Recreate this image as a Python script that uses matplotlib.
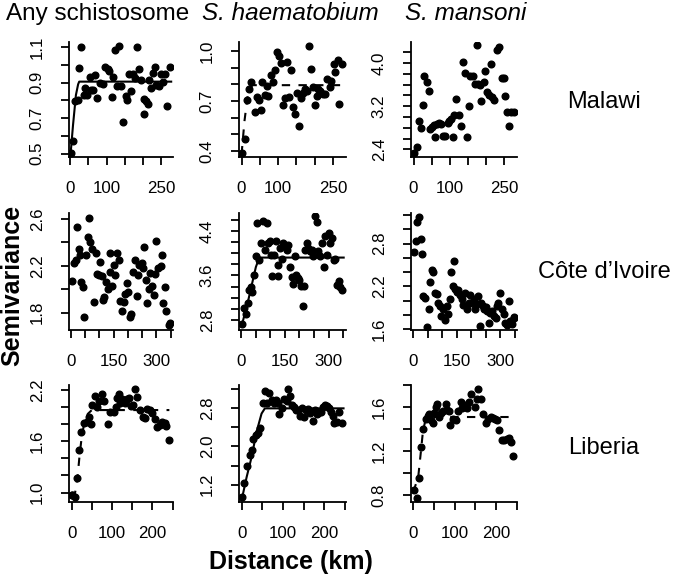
import numpy as np
import matplotlib
matplotlib.use('Agg')
import matplotlib.pyplot as plt

plt.rcParams['font.family'] = ['Liberation Sans', 'DejaVu Sans']

col_titles = ['Any schistosome', 'S. haematobium', 'S. mansoni']
row_titles = ['Malawi', 'C\u00f4te d\u2019Ivoire', 'Liberia']

# Malawi
mw_any_d = [3, 7, 14, 21, 25, 29, 37, 41, 47, 55, 56, 64, 68, 75, 82, 91, 97, 103, 106, 114, 118, 123, 129,
            134, 139, 145, 153, 157, 161, 168, 173, 177, 184, 189, 195, 202, 203, 209, 214, 216, 223, 227, 232,
            236, 245, 250, 255, 261, 266, 273]
mw_any_v = [0.504, 0.571, 0.796, 0.804, 0.982, 1.098, 0.83, 0.871, 0.83, 0.93, 0.86, 0.86, 0.94, 0.815, 0.895,
            0.89, 0.99, 0.975, 0.965, 0.82, 0.93, 1.085, 0.88, 1.104, 0.881, 0.68, 0.825, 0.80, 0.946, 0.85, 0.95,
            0.925, 1.10, 0.975, 0.913, 0.725, 0.808, 0.796, 0.778, 0.913, 0.871, 0.956, 0.988, 0.885, 0.881, 0.95,
            0.905, 0.95, 0.767, 0.99]
mw_any_md = [1, 8, 16, 22, 25, 277]
mw_any_mv = [0.49, 0.66, 0.83, 0.89, 0.905, 0.905]

mw_hae_d = [2, 9, 14, 20, 26, 37, 43, 49, 53, 57, 64, 69, 73, 81, 85, 92, 98, 103, 108, 113, 119, 125, 131,
            136, 142, 147, 151, 157, 162, 168, 174, 179, 186, 190, 195, 201, 206, 208, 215, 222, 229, 235, 241,
            245, 252, 256, 263, 268, 276]
mw_hae_v = [0.388, 0.474, 0.704, 0.77, 0.814, 0.634, 0.724, 0.704, 0.646, 0.814, 0.736, 0.79, 0.73, 0.856,
            0.814, 0.884, 0.996, 0.97, 0.93, 0.676, 0.72, 0.934, 0.724, 0.884, 0.664, 0.62, 0.75, 0.55, 0.72,
            0.75, 0.77, 0.76, 1.03, 0.89, 0.784, 0.676, 0.73, 0.77, 0.76, 0.744, 0.744, 0.83, 0.784, 0.82, 0.924,
            0.874, 0.946, 0.684, 0.924]
mw_hae_md = [0, 8, 16, 24, 30, 280]
mw_hae_mv = [0.38, 0.58, 0.72, 0.78, 0.795, 0.795]

mw_man_d = [2, 9, 14, 20, 25, 30, 37, 42, 46, 51, 57, 60, 64, 71, 76, 81, 87, 94, 99, 103, 109, 112, 118,
            126, 132, 136, 142, 147, 152, 156, 163, 168, 175, 177, 182, 186, 193, 198, 202, 209, 214, 216, 223,
            230, 236, 244, 250, 252, 257, 264, 268, 276]
mw_man_v = [2.33, 2.44, 2.92, 2.80, 3.22, 3.76, 3.65, 3.48, 2.78, 2.81, 2.85, 2.62, 2.87, 2.89, 2.87, 2.65,
            2.65, 2.89, 2.93, 2.96, 2.62, 3.03, 3.33, 3.04, 2.84, 4.02, 3.82, 2.62, 3.20, 3.76, 3.76, 3.62, 4.33,
            3.61, 3.59, 3.30, 3.65, 3.86, 3.46, 3.40, 3.98, 3.37, 3.31, 4.25, 4.30, 3.73, 3.73, 3.39, 3.09, 2.84,
            3.09, 3.09]

# Cote d'Ivoire
ci_any_d = [3, 12, 17, 21, 29, 32, 37, 43, 48, 52, 60, 65, 69, 76, 81, 87, 92, 98, 104, 110, 112, 118, 125,
            129, 136, 139, 144, 150, 156, 162, 170, 171, 179, 185, 191, 196, 202, 208, 211, 219, 225, 231, 234,
            240, 248, 254, 257, 262, 268, 274, 279, 286, 291, 294, 300, 306, 315, 320, 323, 329, 335, 343, 349]
ci_any_v = [2.07, 2.22, 2.25, 2.53, 2.34, 2.29, 2.06, 2.02, 1.76, 2.29, 2.45, 2.61, 2.40, 2.34, 1.89, 2.31,
            2.13, 2.12, 2.23, 2.11, 1.91, 1.93, 2.06, 2.00, 2.15, 2.31, 2.03, 2.21, 2.12, 2.31, 2.25, 1.90, 1.81,
            1.89, 1.96, 2.05, 1.98, 1.76, 1.79, 2.15, 2.25, 1.94, 2.12, 2.21, 2.22, 2.18, 2.36, 2.08, 1.88, 2.00,
            2.14, 2.03, 1.95, 2.13, 2.41, 2.18, 2.20, 2.29, 1.88, 2.02, 1.81, 1.69, 1.71]

ci_hae_d = [3, 9, 15, 23, 27, 32, 37, 43, 50, 54, 60, 67, 75, 81, 87, 92, 98, 101, 106, 113, 119, 125, 127,
            133, 139, 144, 150, 156, 162, 167, 173, 179, 185, 188, 196, 200, 204, 211, 216, 219, 225, 231, 236,
            242, 248, 254, 260, 262, 271, 277, 283, 288, 294, 300, 306, 312, 318, 323, 329, 335, 340, 346]
ci_hae_v = [2.73, 3.01, 2.90, 3.10, 3.33, 3.40, 3.30, 3.61, 3.94, 4.54, 3.88, 4.18, 4.57, 4.06, 4.54, 4.19,
            4.21, 3.97, 3.59, 3.97, 4.21, 3.59, 3.79, 4.09, 3.89, 4.18, 4.12, 4.06, 4.15, 3.75, 3.58, 3.44, 3.94,
            3.61, 3.55, 3.52, 3.41, 3.05, 3.41, 4.06, 4.19, 4.09, 4.03, 4.06, 3.94, 4.66, 4.55, 4.03, 3.94, 4.18,
            3.75, 4.30, 3.97, 4.36, 4.18, 4.27, 3.88, 3.89, 3.43, 3.50, 3.40, 3.34]
ci_hae_md = [2, 25, 50, 62, 352]
ci_hae_mv = [2.71, 3.18, 3.75, 3.92, 3.92]

ci_man_d = [3, 8, 14, 20, 27, 31, 35, 40, 46, 54, 58, 64, 69, 75, 81, 84, 92, 96, 104, 110, 115, 121, 125,
            129, 136, 141, 144, 150, 156, 162, 168, 173, 179, 185, 191, 196, 202, 208, 214, 219, 225, 231, 233,
            240, 245, 251, 254, 262, 266, 271, 277, 285, 289, 292, 300, 306, 312, 318, 323, 329, 333, 341, 346, 349]
ci_man_v = [2.69, 2.84, 3.11, 3.18, 2.86, 2.65, 2.06, 2.04, 1.63, 1.88, 2.26, 2.43, 2.41, 2.11, 2.10, 1.97,
            1.93, 1.78, 1.88, 1.73, 1.92, 1.82, 2.02, 2.41, 2.20, 2.56, 2.17, 2.12, 2.15, 2.08, 2.02, 1.94, 2.11,
            1.89, 1.97, 2.08, 1.97, 2.02, 1.88, 1.96, 2.06, 1.65, 1.97, 1.93, 1.88, 1.91, 1.85, 1.69, 1.83, 1.85,
            1.78, 1.76, 1.92, 1.97, 2.11, 1.88, 1.82, 1.69, 1.66, 1.99, 1.72, 1.68, 1.76, 1.77]

# Liberia
lb_any_d = [1, 2, 8, 14, 19, 24, 31, 39, 42, 47, 50, 58, 62, 69, 75, 81, 89, 95, 105, 109, 113, 117, 121,
            125, 131, 137, 141, 147, 152, 157, 163, 169, 176, 181, 187, 194, 200, 206, 211, 218, 223, 230, 234, 240]
lb_any_v = [0.97, 0.97, 0.95, 1.17, 1.50, 1.71, 1.81, 1.82, 1.88, 1.80, 2.02, 2.13, 2.00, 2.07, 2.15, 2.07,
            1.80, 1.94, 1.94, 2.00, 2.11, 2.15, 2.05, 2.09, 2.05, 2.10, 2.11, 2.01, 2.03, 2.21, 2.12, 1.97, 1.88,
            1.87, 1.98, 1.96, 1.93, 1.86, 1.77, 1.79, 1.82, 1.81, 1.78, 1.62]
lb_any_md = [0, 8, 15, 20, 25, 30, 40, 50, 242]
lb_any_mv = [0.94, 0.98, 1.2, 1.45, 1.65, 1.78, 1.92, 1.965, 1.965]

lb_hae_d = [0, 6, 14, 19, 24, 28, 34, 39, 44, 51, 56, 62, 67, 73, 77, 83, 87, 91, 97, 102, 109, 113, 117,
            121, 127, 131, 137, 141, 145, 151, 156, 161, 165, 172, 177, 181, 185, 191, 196, 202, 207, 212, 215,
            220, 223, 230, 236, 242]
lb_hae_v = [0.95, 1.24, 1.58, 1.82, 1.93, 2.15, 2.24, 2.28, 2.39, 2.91, 3.17, 2.92, 3.12, 2.98, 2.92, 2.97,
            2.92, 2.68, 2.81, 2.99, 2.96, 3.20, 3.05, 2.86, 2.83, 2.77, 2.77, 2.63, 2.81, 2.61, 2.76, 2.79, 2.70,
            2.53, 2.77, 2.68, 2.70, 2.72, 2.83, 2.88, 2.84, 2.81, 2.72, 2.65, 2.49, 2.52, 2.72, 2.50]
lb_hae_md = [0, 12, 24, 36, 48, 56, 246]
lb_hae_mv = [0.88, 1.36, 1.78, 2.31, 2.69, 2.80, 2.80]

lb_man_d = [2, 8, 14, 19, 24, 30, 35, 39, 43, 47, 50, 54, 58, 63, 67, 73, 78, 82, 86, 90, 97, 103, 109,
            115, 118, 123, 129, 135, 140, 149, 153, 157, 163, 169, 176, 181, 187, 192, 198, 202, 208, 214, 220,
            226, 231, 236, 242]
lb_man_v = [0.85, 0.78, 0.96, 1.24, 1.40, 1.49, 1.52, 1.54, 1.48, 1.46, 1.55, 1.60, 1.63, 1.51, 1.55, 1.56,
            1.63, 1.57, 1.56, 1.44, 1.49, 1.48, 1.56, 1.65, 1.59, 1.62, 1.59, 1.65, 1.72, 1.60, 1.67, 1.76, 1.67,
            1.54, 1.46, 1.49, 1.51, 1.50, 1.49, 1.48, 1.39, 1.30, 1.30, 1.31, 1.32, 1.28, 1.16]
lb_man_md = [0, 12, 19, 23, 28, 33, 243]
lb_man_mv = [0.83, 0.97, 1.22, 1.37, 1.46, 1.51, 1.51]

# (dist, value, model dist, model value, line style) per panel, row by row
panels = [
    (mw_any_d, mw_any_v, mw_any_md, mw_any_mv, '-'),
    (mw_hae_d, mw_hae_v, mw_hae_md, mw_hae_mv, '--'),
    (mw_man_d, mw_man_v, None, None, None),
    (ci_any_d, ci_any_v, None, None, None),
    (ci_hae_d, ci_hae_v, ci_hae_md, ci_hae_mv, '-'),
    (ci_man_d, ci_man_v, None, None, None),
    (lb_any_d, lb_any_v, lb_any_md, lb_any_mv, '--'),
    (lb_hae_d, lb_hae_v, lb_hae_md, lb_hae_mv, '-'),
    (lb_man_d, lb_man_v, lb_man_md, lb_man_mv, '--'),
]

# axis limits and ticks (R style: not every tick gets a label)
xlims = [(-3, 282), (-7, 286), (-7, 285), (-6, 358), (-8, 360), (-8, 358), (-6.5, 251), (-6.5, 252), (-5.6, 251)]
ylims = [(0.481, 1.128), (0.364, 1.054), (2.258, 4.39), (1.651, 2.651), (2.62, 4.72), (1.59, 3.23),
         (0.89, 2.258), (0.835, 3.29), (0.74, 1.794)]
xtick_sets = [
    ([0, 50, 100, 150, 200, 250], ['0', '', '100', '', '', '250']),
    ([0, 50, 100, 150, 200, 250, 300, 350], ['0', '', '', '150', '', '', '300', '']),
    ([0, 50, 100, 150, 200, 250], ['0', '', '100', '', '200', '']),
]
ytick_sets = [
    ([0.5, 0.6, 0.7, 0.8, 0.9, 1.0, 1.1], ['0.5', '', '0.7', '', '0.9', '', '1.1']),
    ([0.4, 0.5, 0.6, 0.7, 0.8, 0.9, 1.0], ['0.4', '', '', '0.7', '', '', '1.0']),
    ([2.4, 2.6, 2.8, 3.0, 3.2, 3.4, 3.6, 3.8, 4.0, 4.2], ['2.4', '', '', '', '3.2', '', '', '', '4.0', '']),
    ([1.8, 2.0, 2.2, 2.4, 2.6], ['1.8', '', '2.2', '', '2.6']),
    ([2.8, 3.0, 3.2, 3.4, 3.6, 3.8, 4.0, 4.2, 4.4, 4.6], ['2.8', '', '', '', '3.6', '', '', '', '4.4', '']),
    ([1.6, 1.8, 2.0, 2.2, 2.4, 2.6, 2.8, 3.0, 3.2], ['1.6', '', '', '2.2', '', '', '2.8', '', '']),
    ([1.0, 1.2, 1.4, 1.6, 1.8, 2.0, 2.2], ['1.0', '', '', '1.6', '', '', '2.2']),
    ([1.2, 1.6, 2.0, 2.4, 2.8, 3.2], ['1.2', '', '2.0', '', '2.8', '']),
    ([0.8, 1.0, 1.2, 1.4, 1.6, 1.8], ['0.8', '', '1.2', '', '1.6', '']),
]

fig = plt.figure(figsize=(6.75, 5.79), dpi=100)
W, H = 675, 579
col_x = [69, 239, 411]
col_w = [104, 107, 106]
row_y = [42, 213, 385]
row_h = [115, 117, 117]

for i, (d, v, md, mv, ls) in enumerate(panels):
    r, c = divmod(i, 3)
    ax = fig.add_axes([col_x[c] / W, 1 - (row_y[r] + row_h[r]) / H, col_w[c] / W, row_h[r] / H])
    ax.plot(d, v, 'o', color='black', markersize=4.8, zorder=3)
    if md is not None:
        if ls == '--':
            ax.plot(md, mv, color='black', lw=1.5, dashes=(4, 4), zorder=2)
        else:
            ax.plot(md, mv, color='black', lw=1.5, zorder=2)
    ax.set_xlim(*xlims[i])
    ax.set_ylim(*ylims[i])
    xt, xl = xtick_sets[r]
    yt, yl = ytick_sets[i]
    ax.set_xticks(xt)
    ax.set_xticklabels(xl)
    ax.set_yticks(yt)
    ax.set_yticklabels(yl, rotation=90, va='center')
    ax.spines['top'].set_visible(False)
    ax.spines['right'].set_visible(False)
    for s in ['left', 'bottom']:
        ax.spines[s].set_linewidth(1.3)
    ax.tick_params(direction='out', length=6, width=1.3, labelsize=12.2, pad=11.5, colors='black')

for c in range(3):
    cx = [98, 290, 466][c]
    style = 'normal' if c == 0 else 'italic'
    fig.text(cx / W, 1 - 14 / H, col_titles[c], ha='center', va='center', fontsize=17.5, style=style)

for r in range(3):
    cy = [102, 272, 448][r]
    fig.text(604 / W, 1 - cy / H, row_titles[r], ha='center', va='center', fontsize=17)

fig.text(12 / W, 1 - 285 / H, 'Semivariance', rotation=90, ha='center', va='center',
         fontsize=18, fontweight='bold')
fig.text(291 / W, 1 - 562 / H, 'Distance (km)', ha='center', va='center', fontsize=18, fontweight='bold')

fig.savefig('out.png', dpi=100)
